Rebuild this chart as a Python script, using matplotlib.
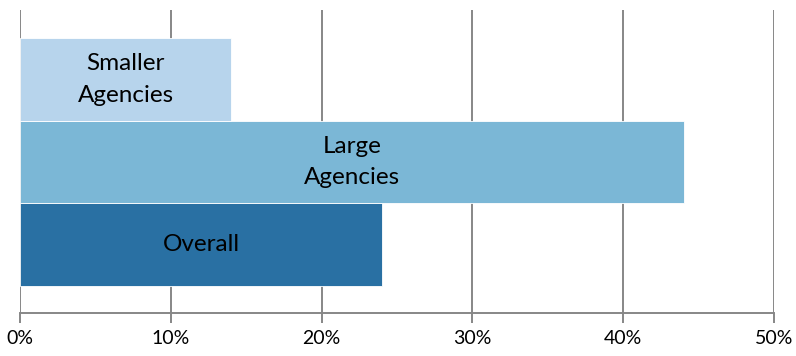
import matplotlib
matplotlib.use('Agg')
import matplotlib.pyplot as plt
from matplotlib import ticker as tkr

# share of each group, percent
categories = ['Overall', 'Large\nAgencies', 'Smaller\nAgencies']
values = [24, 44, 14]
colors = ['#2970a3', '#7bb7d6', '#b7d4ec']
xticks = [0, 10, 20, 30, 40, 50]

plt.rcParams['font.family'] = ['Lato', 'DejaVu Sans']

fig = plt.figure(figsize=(7.96, 3.56), dpi=100)
ax = fig.add_axes([20 / 796, 1 - 313 / 356, 754 / 796, 303 / 356])

grid_color = '#878787'
for x in xticks:
    ax.axvline(x, color=grid_color, linewidth=1.4, zorder=0)

ypos = list(range(len(categories)))
ax.barh(ypos, values, height=1.0, color=colors, edgecolor='white',
        linewidth=0.6, zorder=2)
for y, v, label in zip(ypos, values, categories):
    ax.text(v / 2, y, label, ha='center', va='center', fontsize=17.5,
            color='black', linespacing=1.6, zorder=3)

ax.set_xlim(0, 50)
ax.set_ylim(-0.826, 2.84)
ax.set_xticks(xticks)
ax.xaxis.set_major_formatter(tkr.FuncFormatter(lambda x, pos: '%d%%' % x))
ax.set_yticks([])
for side in ('top', 'right', 'left'):
    ax.spines[side].set_visible(False)
ax.spines['bottom'].set_color(grid_color)
ax.spines['bottom'].set_linewidth(1.4)
ax.tick_params(axis='x', direction='out', length=7, width=1.4,
               color=grid_color, labelsize=14, pad=5)

fig.savefig('out.png', dpi=100)
